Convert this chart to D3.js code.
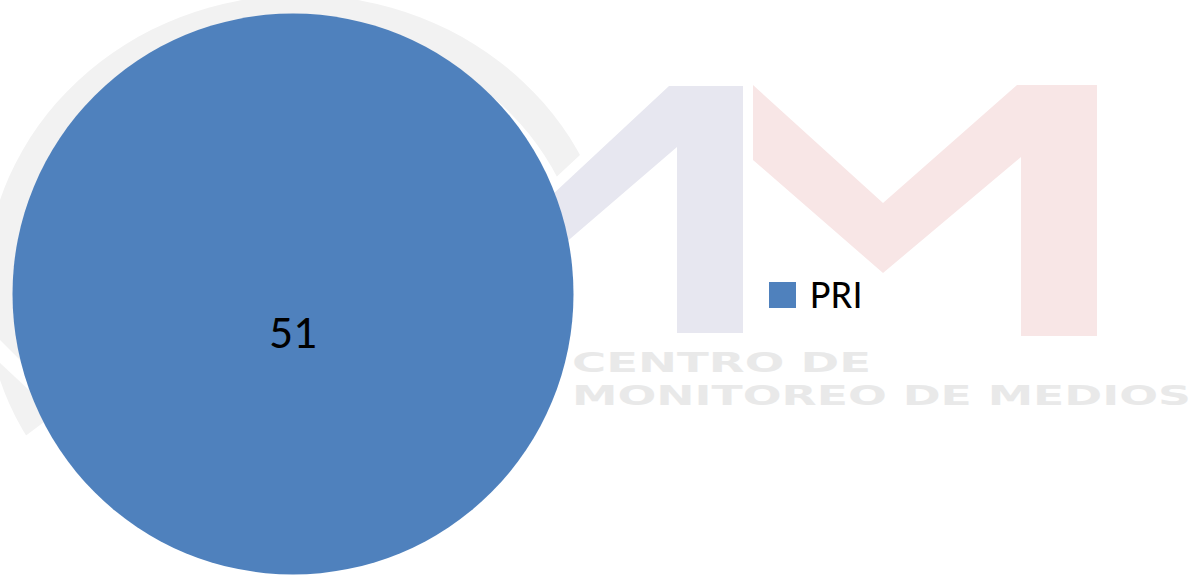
<!DOCTYPE html>
<html>
<head>
<meta charset="utf-8">
<script src="https://cdn.jsdelivr.net/npm/d3@7"></script>
<style>
  html, body { margin: 0; padding: 0; background: #fff; }
  svg { display: block; }
</style>
</head>
<body>
<svg id="chart"></svg>
<script>
// data
const categories = ['PRI'];
const values = [51];
const colors = ['#4F81BD'];

const width = 1194;
const height = 575;
const svg = d3.select('#chart').attr('width', width).attr('height', height);
const line = d3.line();

// faint background logo watermark
const wm = svg.append('g').attr('class', 'watermark');
svg.append('defs').append('clipPath').attr('id', 'ringClip')
  .append('path')
  .attr('d', line([[-20, -20], [768, -20], [450, 276], [300, 420], [60, 410], [-20, 470]]) + 'Z');

wm.append('path')
  .attr('clip-path', 'url(#ringClip)')
  .attr('d', (() => {
    const cx = 300, cy = 290;
    const e = (rx, ry) =>
      `M${cx - rx},${cy} a${rx},${ry} 0 1,0 ${2 * rx},0 a${rx},${ry} 0 1,0 ${-2 * rx},0 Z`;
    return e(315, 295) + e(285, 262);
  })())
  .attr('fill', '#F2F2F2')
  .attr('fill-rule', 'evenodd');
wm.append('path')
  .attr('d', line([[0, 340], [45, 385], [45, 405], [0, 363]]) + 'Z')
  .attr('fill', '#fff');

wm.append('path')
  .attr('d', line([[669, 86], [743, 86], [743, 333], [677, 333], [677, 147], [450, 342], [450, 290]]) + 'Z')
  .attr('fill', '#E7E7F0');
wm.append('path')
  .attr('d', line([[753, 85], [883, 203], [1017, 85], [1097, 85], [1097, 336], [1021, 336], [1021, 157], [883, 273], [753, 160]]) + 'Z')
  .attr('fill', '#F8E6E6');

wm.selectAll('text')
  .data([
    { t: 'CENTRO DE', x: 572, y: 372, w: 299 },
    { t: 'MONITOREO DE MEDIOS', x: 572, y: 405, w: 619 }
  ])
  .join('text')
  .attr('x', d => d.x)
  .attr('y', d => d.y)
  .attr('textLength', d => d.w)
  .attr('lengthAdjust', 'spacingAndGlyphs')
  .attr('font-family', 'DejaVu Sans, sans-serif')
  .attr('font-weight', 'bold')
  .attr('font-size', 27)
  .attr('fill', '#E9E9E9')
  .text(d => d.t);

// pie
const cx = 293, cy = 294, radius = 280.5;
const pie = d3.pie().sort(null);
const arcs = pie(values);
const arc = d3.arc().innerRadius(0).outerRadius(radius);
const labelArc = d3.arc().innerRadius(0).outerRadius(76);

const g = svg.append('g').attr('transform', `translate(${cx},${cy})`);
g.selectAll('path')
  .data(arcs)
  .join('path')
  .attr('d', arc)
  .attr('fill', (d, i) => colors[i]);

g.selectAll('text')
  .data(arcs)
  .join('text')
  .attr('transform', d => `translate(${labelArc.centroid(d)})`)
  .attr('text-anchor', 'middle')
  .attr('dy', '0.33em')
  .attr('font-family', 'Carlito, Calibri, "Liberation Sans", sans-serif')
  .attr('font-size', 47)
  .attr('fill', '#000')
  .text(d => d.data);

// legend
const legend = svg.append('g').attr('transform', 'translate(769,282)');
const item = legend.selectAll('g')
  .data(categories)
  .join('g')
  .attr('transform', (d, i) => `translate(0,${i * 40})`);
item.append('rect')
  .attr('width', 27)
  .attr('height', 26)
  .attr('fill', (d, i) => colors[i]);
item.append('text')
  .attr('x', 41)
  .attr('y', 26)
  .attr('font-family', 'Carlito, Calibri, "Liberation Sans", sans-serif')
  .attr('font-size', 40)
  .attr('fill', '#000')
  .text(d => d);
</script>
</body>
</html>
